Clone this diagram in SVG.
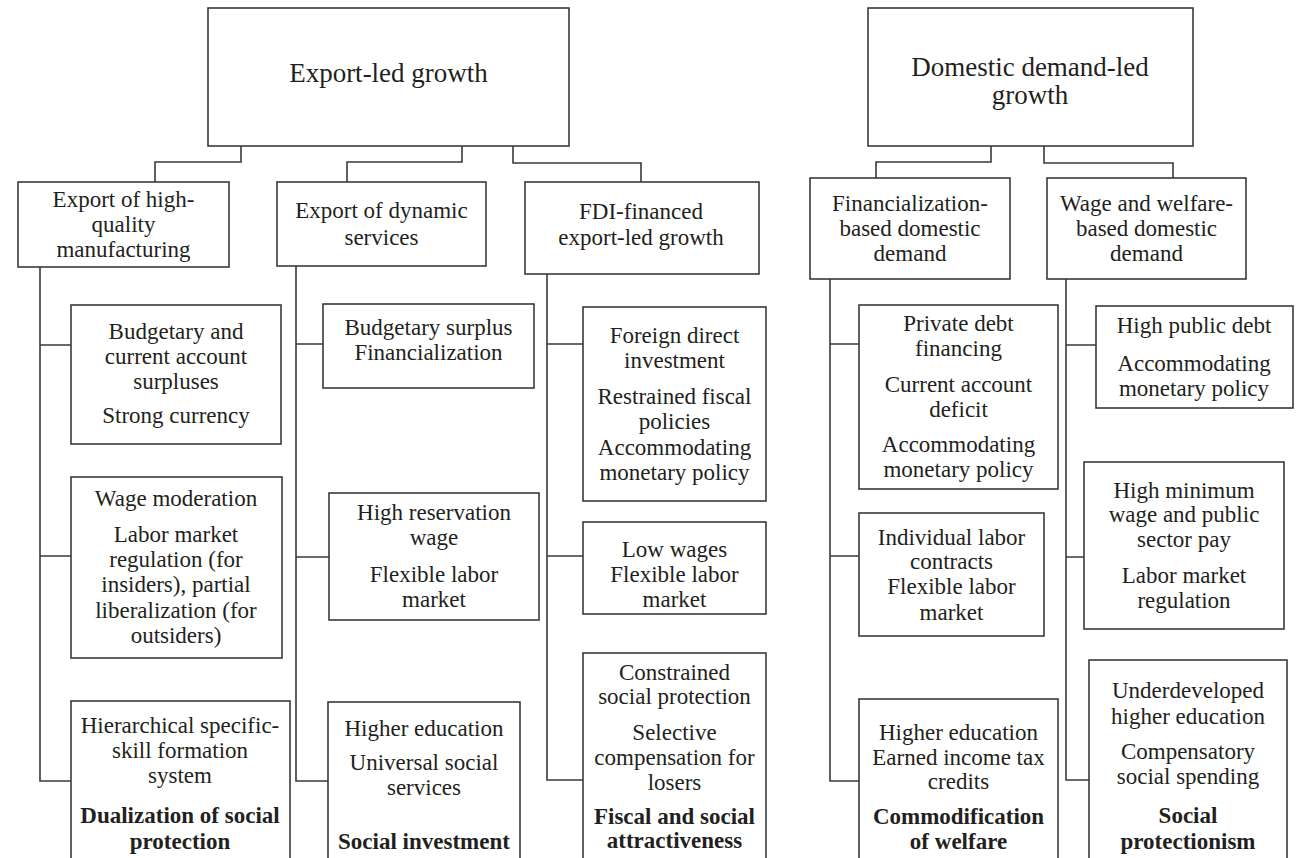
<svg xmlns="http://www.w3.org/2000/svg" width="1299" height="858" viewBox="0 0 1299 858">
<style>
rect{fill:#fff;stroke:#3a3a3a;stroke-width:1.6}
.c path{fill:none;stroke:#3a3a3a;stroke-width:1.6}
text{font-family:"Liberation Serif","Times New Roman",serif;font-size:23px;fill:#231f20;text-anchor:middle}
.t{font-size:27px}
.b{font-weight:bold}
</style>
<rect x="0" y="0" width="1299" height="858" style="stroke:none"/>
<g class="c" id="connectors">
<path d="M241,146V162H155V182M462,146V162H347V182M513,146V163H641V182"/>
<path d="M991,146V162H876V178M1044,146V163H1173V178"/>
<path d="M40,267V781H71M40,345H71M40,556H71"/>
<path d="M296,266V781H328M296,344H323M296,557H329"/>
<path d="M547,274V780H583M547,344H583M547,556H583"/>
<path d="M830,279V781H859M830,344H859M830,556H859"/>
<path d="M1066,279V780H1089M1066,345H1096M1066,557H1084"/>
</g>
<g id="export-led">
<rect x="208" y="8" width="361" height="138"/>
<text class="t" x="388.5" y="82">Export-led growth</text>
</g>
<g id="domestic-led">
<rect x="868" y="8" width="325" height="138"/>
<text class="t" x="1030" y="76">Domestic demand-led</text>
<text class="t" x="1030" y="104">growth</text>
</g>
<g id="hq-manufacturing">
<rect x="18" y="182" width="211" height="85"/>
<text x="123.5" y="207">Export of high-</text>
<text x="123.5" y="232">quality</text>
<text x="123.5" y="257">manufacturing</text>
</g>
<g id="dynamic-services">
<rect x="277" y="182" width="209" height="84"/>
<text x="381.5" y="218">Export of dynamic</text>
<text x="381.5" y="245">services</text>
</g>
<g id="fdi-financed">
<rect x="525" y="182" width="234" height="92"/>
<text x="641" y="219">FDI-financed</text>
<text x="641" y="245">export-led growth</text>
</g>
<g id="financialization">
<rect x="810" y="178" width="200" height="101"/>
<text x="910" y="211">Financialization-</text>
<text x="910" y="236">based domestic</text>
<text x="910" y="261">demand</text>
</g>
<g id="wage-welfare">
<rect x="1047" y="178" width="199" height="101"/>
<text x="1146.5" y="211">Wage and welfare-</text>
<text x="1146.5" y="236">based domestic</text>
<text x="1146.5" y="261">demand</text>
</g>
<g id="a1">
<rect x="71" y="305" width="210" height="139"/>
<text x="176" y="339">Budgetary and</text>
<text x="176" y="364">current account</text>
<text x="176" y="389">surpluses</text>
<text x="176" y="423">Strong currency</text>
</g>
<g id="a2">
<rect x="71" y="477" width="211" height="181"/>
<text x="176" y="506">Wage moderation</text>
<text x="176" y="542">Labor market</text>
<text x="176" y="567">regulation (for</text>
<text x="176" y="592">insiders), partial</text>
<text x="176" y="618">liberalization (for</text>
<text x="176" y="643">outsiders)</text>
</g>
<g id="a3">
<rect x="71" y="701" width="219" height="170"/>
<text x="180" y="733">Hierarchical specific-</text>
<text x="180" y="758">skill formation</text>
<text x="180" y="783">system</text>
<text class="b" x="180" y="823">Dualization of social</text>
<text class="b" x="180" y="849">protection</text>
</g>
<g id="b1">
<rect x="323" y="304" width="211" height="84"/>
<text x="428.5" y="335">Budgetary surplus</text>
<text x="428.5" y="360">Financialization</text>
</g>
<g id="b2">
<rect x="329" y="493" width="210" height="127"/>
<text x="434" y="520">High reservation</text>
<text x="434" y="545">wage</text>
<text x="434" y="582">Flexible labor</text>
<text x="434" y="607">market</text>
</g>
<g id="b3">
<rect x="328" y="702" width="192" height="170"/>
<text x="424" y="736">Higher education</text>
<text x="424" y="770">Universal social</text>
<text x="424" y="795">services</text>
<text class="b" x="424" y="849">Social investment</text>
</g>
<g id="c1">
<rect x="583" y="307" width="183" height="194"/>
<text x="674.5" y="343">Foreign direct</text>
<text x="674.5" y="368">investment</text>
<text x="674.5" y="404">Restrained fiscal</text>
<text x="674.5" y="429">policies</text>
<text x="674.5" y="455">Accommodating</text>
<text x="674.5" y="480">monetary policy</text>
</g>
<g id="c2">
<rect x="583" y="522" width="183" height="92"/>
<text x="674.5" y="557">Low wages</text>
<text x="674.5" y="582">Flexible labor</text>
<text x="674.5" y="607">market</text>
</g>
<g id="c3">
<rect x="583" y="653" width="183" height="220"/>
<text x="674.5" y="680">Constrained</text>
<text x="674.5" y="704">social protection</text>
<text x="674.5" y="740">Selective</text>
<text x="674.5" y="765">compensation for</text>
<text x="674.5" y="790">losers</text>
<text class="b" x="674.5" y="824">Fiscal and social</text>
<text class="b" x="674.5" y="848">attractiveness</text>
</g>
<g id="d1">
<rect x="859" y="305" width="199" height="184"/>
<text x="958.5" y="331">Private debt</text>
<text x="958.5" y="356">financing</text>
<text x="958.5" y="392">Current account</text>
<text x="958.5" y="417">deficit</text>
<text x="958.5" y="452">Accommodating</text>
<text x="958.5" y="477">monetary policy</text>
</g>
<g id="d2">
<rect x="859" y="513" width="185" height="123"/>
<text x="951.5" y="545">Individual labor</text>
<text x="951.5" y="569">contracts</text>
<text x="951.5" y="594">Flexible labor</text>
<text x="951.5" y="620">market</text>
</g>
<g id="d3">
<rect x="859" y="699" width="199" height="175"/>
<text x="958.5" y="740">Higher education</text>
<text x="958.5" y="765">Earned income tax</text>
<text x="958.5" y="789">credits</text>
<text class="b" x="958.5" y="824">Commodification</text>
<text class="b" x="958.5" y="849">of welfare</text>
</g>
<g id="e1">
<rect x="1096" y="306" width="197" height="102"/>
<text x="1194" y="333">High public debt</text>
<text x="1194" y="371">Accommodating</text>
<text x="1194" y="396">monetary policy</text>
</g>
<g id="e2">
<rect x="1084" y="462" width="200" height="167"/>
<text x="1184" y="498">High minimum</text>
<text x="1184" y="522">wage and public</text>
<text x="1184" y="547">sector pay</text>
<text x="1184" y="583">Labor market</text>
<text x="1184" y="608">regulation</text>
</g>
<g id="e3">
<rect x="1089" y="660" width="198" height="214"/>
<text x="1188" y="698">Underdeveloped</text>
<text x="1188" y="724">higher education</text>
<text x="1188" y="759">Compensatory</text>
<text x="1188" y="784">social spending</text>
<text class="b" x="1188" y="823">Social</text>
<text class="b" x="1188" y="849">protectionism</text>
</g>
</svg>
